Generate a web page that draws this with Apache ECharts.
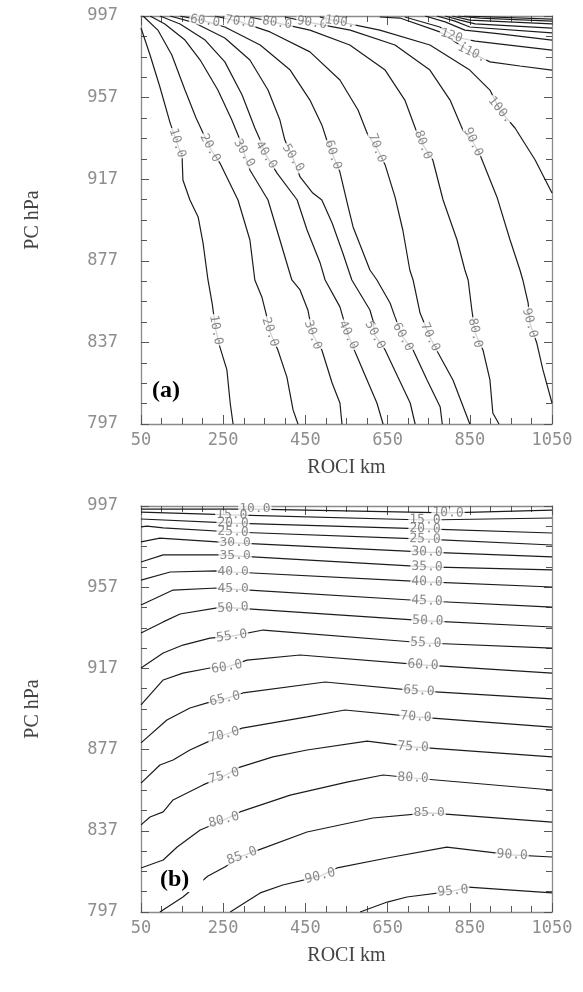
<!DOCTYPE html>
<html><head><meta charset="utf-8">
<script src="https://cdn.jsdelivr.net/npm/echarts@6/dist/echarts.min.js"></script>
<style>html,body{margin:0;padding:0;background:#fff}#c{width:583px;height:992px}</style>
</head><body><div id="c"></div>
<script>
// ---------------- data ----------------
const rociTicks = [50, 250, 450, 650, 850, 1050];   // ROCI km
const pcTicks = [797, 837, 877, 917, 957, 997];      // PC hPa

// Panel (a) contour lines, points as [ROCI km, PC hPa]
const a10 = [[50,991.1],[72,977.9],[96,962.2],[121,944.5],[138,934.7],[150,927.9],[152,916.6],[169,906.8],[189,898.5],[201,885.7],[213,867.6],[223,856.3],[232,843.1],[242,834.7],[259,823.5],[267,807.3],[274,797]];
const a20 = [[55,997],[91,990.1],[125,977.9],[157,960.7],[184,947],[201,939.6],[218,932.3],[242,924.9],[286,906.8],[315,887.2],[327,867.6],[344,859.3],[354,851.4],[364,842.1],[383,833.3],[405,820],[420,803.9],[432,797]];
const a30 = [[72,997],[108,993.1],[157,985.2],[194,975.4],[237,960.7],[271,946],[291,936.2],[301,929.8],[315,921.5],[359,906.8],[388,887.2],[417,867.6],[437,862.7],[456,852.9],[468,840.6],[490,833.3],[515,817.1],[534,807.3],[539,797]];
const a40 = [[96,997],[145,993.1],[206,985.2],[254,974.5],[296,958.3],[327,942.1],[340,936.2],[354,928.9],[381,920],[430,906.8],[454,892.1],[486,875.9],[498,867.6],[534,854.4],[541,849.5],[554,840.6],[571,832.3],[600,818.6],[624,807.3],[639,797]];
const a50 = [[121,997],[181,993.6],[254,986.2],[315,975.4],[359,960.7],[388,946],[400,936.2],[420,927.4],[437,918.1],[468,910.2],[490,906.8],[515,895.5],[541,880.8],[563,867.6],[607,852.9],[614,848],[619,840.6],[644,833.3],[675,820],[705,807.3],[717,797]];
const a60 = [[145,997],[194,995],[206,994.5],[254,991.6],[340,982.8],[413,970.5],[461,955.8],[490,943.6],[502,936.2],[517,928.9],[534,920.5],[554,903.4],[566,893.6],[607,872.5],[624,867.6],[656,856.3],[668,849.5],[687,839.6],[712,833.3],[746,818.6],[778,805.3],[783,797]];
const a70 = [[230,997],[291,994.1],[364,989.2],[461,979.4],[534,965.6],[578,950.9],[602,938.7],[624,932.3],[644,924],[668,908.3],[687,892.1],[704,872.5],[712,867.6],[729,851.4],[753,839.6],[773,831.8],[809,818.6],[850,797]];
const a80 = [[315,996.5],[381,993.6],[461,990.1],[558,982.8],[644,970.5],[692,955.8],[719,941.1],[736,933.8],[760,926.4],[785,906.8],[819,887.2],[838,872.5],[846,867.6],[855,852.9],[863,841.6],[882,833.3],[899,818.6],[906,802.4],[921,797]];
const a90 = [[400,996.5],[466,993.6],[559,990.1],[668,982.8],[753,970.5],[802,955.8],[833,941.1],[858,935.2],[875,928.9],[916,908.3],[948,887.2],[972,872.5],[979,867.6],[992,856.3],[996,846.5],[1013,836.7],[1028,823.5],[1050,807.3]];
const a100 = [[485,996.5],[534,994.1],[631,990.1],[753,982.8],[850,970.5],[899,960.7],[923,950.9],[960,942.1],[1009,926.4],[1050,910.2]];
const a110 = [[631,996.5],[680,996],[777,989.2],[826,982.8],[855,978.9],[899,974.5],[972,972.5],[1050,970.5]];
const a120 = [[692,996.5],[777,991.6],[814,986.7],[863,984.7],[1050,980.3]];
const a130 = [[741,997],[790,994.1],[838,990.1],[923,988.2],[1050,985.2]];
const a140 = [[770,997],[814,994.5],[850,991.6],[1050,988.7]];
const a150 = [[790,997],[826,995],[863,993.1],[1050,991.1]];
const a160 = [[807,997],[850,995],[1050,993.1]];
const a170 = [[821,997],[875,996],[1050,994.5]];
const a180 = [[836,997],[1050,995.5]];

// Panel (a) contour label anchors
const a10Lab = [[138,934.7],[232,843.1]];
const a20Lab = [[218,932.3],[364,842.1]];
const a30Lab = [[301,929.8],[468,840.6]];
const a40Lab = [[354,928.9],[554,840.6]];
const a50Lab = [[420,927.4],[619,840.6]];
const a60Lab = [[206,994.5],[517,928.9],[687,839.6]];
const a70Lab = [[291,994.1],[624,932.3],[753,839.6]];
const a80Lab = [[381,993.6],[736,933.8],[863,841.6]];
const a90Lab = [[466,993.6],[858,935.2],[996,846.5]];
const a100Lab = [[534,994.1],[923,950.9]];
const a110Lab = [[855,978.9]];
const a120Lab = [[814,986.7]];

// Panel (b) contour lines
const b10 = [[50,995.5],[327,995.5],[797,993.6],[1050,995]];
const b15 = [[50,994],[271,992.6],[741,990.1],[1050,991.1]];
const b20 = [[50,990.6],[274,988.6],[741,985.7],[1050,983.7]];
const b25 = [[50,986.7],[65,987.1],[104,986.2],[274,984.2],[741,980.7],[1050,977.8]];
const b30 = [[50,979.3],[96,981.2],[235,979.3],[279,978.8],[746,974.3],[1050,971.9]];
const b35 = [[50,969.4],[104,972.9],[235,972.9],[279,972.4],[746,967],[1050,965.5]];
const b40 = [[50,960.5],[121,964.5],[235,965],[274,964.5],[746,959.6],[1050,957.1]];
const b45 = [[50,948.2],[128,955.6],[235,956.6],[274,956.1],[746,950.2],[1050,947.2]];
const b50 = [[50,934.4],[104,939.9],[145,943.8],[235,946.8],[274,946.8],[748,940.4],[1050,937.4]];
const b55 = [[50,917.2],[104,924.6],[152,928.5],[218,931.9],[271,932.9],[347,935.9],[743,929.5],[1050,927]];
const b60 = [[50,899],[104,911.3],[152,914.7],[218,917.2],[259,917.7],[308,921.1],[437,923.6],[736,918.7],[1050,914.7]];
const b65 = [[50,880.3],[113,891.6],[169,897.5],[211,900],[254,902],[298,904.9],[498,910.3],[726,905.9],[1050,902]];
const b70 = [[50,860.5],[96,869.4],[128,871.9],[169,876.8],[211,880.7],[252,884.2],[296,887.6],[454,893.1],[546,896.5],[719,893.1],[1050,888.1]];
const b75 = [[50,839.9],[72,843.8],[104,846.3],[128,852.2],[201,859.6],[252,864],[291,868.4],[371,873.4],[454,876.8],[600,881.2],[712,878.3],[1050,873.4]];
const b80 = [[50,818.7],[104,822.6],[138,829],[194,837.4],[252,842.3],[291,846.3],[413,854.6],[551,861],[639,864.5],[712,863],[1050,857.1]];
const b85 = [[96,797],[152,804.4],[213,814.7],[254,819.2],[296,824.6],[335,827.5],[454,836.4],[614,843.3],[751,845.8],[1050,841.3]];
const b90 = [[267,797],[340,806.4],[395,810.3],[486,814.7],[527,818.7],[649,823.6],[794,829],[953,825.1],[1050,824.1]];
const b95 = [[583,797],[649,801.9],[697,804.4],[809,807.3],[846,809.3],[1050,806.4]];

// Panel (b) contour label anchors
const b10Lab = [[327,995.5],[797,993.6]];
const b15Lab = [[271,992.6],[741,990.1]];
const b20Lab = [[274,988.6],[741,985.7]];
const b25Lab = [[274,984.2],[741,980.7]];
const b30Lab = [[279,978.8],[746,974.3]];
const b35Lab = [[279,972.4],[746,967]];
const b40Lab = [[274,964.5],[746,959.6]];
const b45Lab = [[274,956.1],[746,950.2]];
const b50Lab = [[274,946.8],[748,940.4]];
const b55Lab = [[271,932.9],[743,929.5]];
const b60Lab = [[259,917.7],[736,918.7]];
const b65Lab = [[254,902],[726,905.9]];
const b70Lab = [[252,884.2],[719,893.1]];
const b75Lab = [[252,864],[712,878.3]];
const b80Lab = [[252,842.3],[712,863]];
const b85Lab = [[296,824.6],[751,845.8]];
const b90Lab = [[486,814.7],[953,825.1]];
const b95Lab = [[809,807.3]];

// ---------------- assembly ----------------
const panelA = [
  [10,a10,a10Lab],[20,a20,a20Lab],[30,a30,a30Lab],[40,a40,a40Lab],[50,a50,a50Lab],
  [60,a60,a60Lab],[70,a70,a70Lab],[80,a80,a80Lab],[90,a90,a90Lab],[100,a100,a100Lab],
  [110,a110,a110Lab],[120,a120,a120Lab],[130,a130,[]],[140,a140,[]],[150,a150,[]],
  [160,a160,[]],[170,a170,[]],[180,a180,[]]
];
const panelB = [
  [10,b10,b10Lab],[15,b15,b15Lab],[20,b20,b20Lab],[25,b25,b25Lab],[30,b30,b30Lab],
  [35,b35,b35Lab],[40,b40,b40Lab],[45,b45,b45Lab],[50,b50,b50Lab],[55,b55,b55Lab],
  [60,b60,b60Lab],[65,b65,b65Lab],[70,b70,b70Lab],[75,b75,b75Lab],[80,b80,b80Lab],
  [85,b85,b85Lab],[90,b90,b90Lab],[95,b95,b95Lab]
];

// label rotations (style)
const rotA = {10:[-72,-80],20:[-62,-72],30:[-60,-70],40:[-58,-65],50:[-58,-62],60:[-8,-72,-62],
  70:[-8,-70,-65],80:[-8,-70,-78],90:[-8,-65,-75],100:[-8,-50],110:[-25],120:[-18]};
const rotB = {10:[0,-2],15:[-1,-1],20:[-2,-2],25:[-2,-2],30:[0,-2],35:[0,-2],40:[0,-2],45:[0,-2],
  50:[3,-2],55:[8,-2],60:[10,-3],65:[12,-4],70:[14,-4],75:[15,-3],80:[15,-2],85:[20,0],90:[14,-3],95:[5]};

const LINE = '#1c1c1c';
const fmtA = v => v >= 100 ? v + '.' : v.toFixed(1);
const fmtB = v => v.toFixed(1);

function buildPanel(panel, rot, fmt, axisIdx, fontSize) {
  const out = [];
  const labs = [];
  panel.forEach(([lvl, pts, lp]) => {
    out.push({type:'line', xAxisIndex:axisIdx, yAxisIndex:axisIdx, data:pts, symbol:'none',
      lineStyle:{color:LINE, width:1.2}, silent:true, z:2, animation:false});
    lp.forEach((p, i) => labs.push({value:p, label:{rotate:(rot[lvl]||[])[i]||0, formatter:fmt(lvl)}}));
  });
  out.push({type:'scatter', xAxisIndex:axisIdx, yAxisIndex:axisIdx, data:labs, symbolSize:0,
    silent:true, z:5, animation:false,
    label:{show:true, position:'inside', color:'#6e6e6e', fontFamily:'DejaVu Sans Mono',
      fontSize:fontSize, lineHeight:9, backgroundColor:'#fff', padding:[0,1]}});
  return out;
}

const tickStyle = {color:'#555', width:1};
function xAx(grid, pos, showLabel) {
  return {gridIndex:grid, type:'value', position:pos,
    min:rociTicks[0], max:rociTicks[rociTicks.length-1], interval:rociTicks[1]-rociTicks[0],
    axisLine:{show:true, lineStyle:{color:'#8a8a8a', width:1.3}},
    axisTick:{show:true, inside:true, length:9, lineStyle:tickStyle},
    minorTick:{show:true, splitNumber:4, length:6, lineStyle:tickStyle},
    splitLine:{show:false}, minorSplitLine:{show:false},
    axisLabel:{show:showLabel, color:'#8e8e8e', fontFamily:'DejaVu Sans Mono', fontSize:17, margin:8,
      formatter: v => String(v)},
    name: showLabel ? 'ROCI km' : '', nameLocation:'middle', nameGap:34,
    nameTextStyle:{fontFamily:'Liberation Serif', fontSize:20, color:'#444'}};
}
function yAx(grid, pos, showLabel) {
  return {gridIndex:grid, type:'value', position:pos,
    min:pcTicks[0], max:pcTicks[pcTicks.length-1], interval:pcTicks[1]-pcTicks[0],
    axisLine:{show:true, lineStyle:{color:'#8a8a8a', width:1.3}},
    axisTick:{show:true, inside:true, length:8, lineStyle:tickStyle},
    minorTick:{show:true, splitNumber:4, length:6, lineStyle:tickStyle},
    splitLine:{show:false}, minorSplitLine:{show:false},
    axisLabel:{show:showLabel, color:'#8e8e8e', fontFamily:'DejaVu Sans Mono', fontSize:17, margin:23,
      formatter: v => String(v)},
    name: showLabel ? 'PC hPa' : '', nameLocation:'middle', nameGap:98,
    nameTextStyle:{fontFamily:'Liberation Serif', fontSize:20, color:'#444'}};
}

const chart = echarts.init(document.getElementById('c'), null, {renderer:'canvas'});
chart.setOption({
  animation:false,
  backgroundColor:'#fff',
  grid:[
    {left:141, top:16, width:411, height:408},
    {left:141, top:506, width:411, height:406}
  ],
  xAxis:[xAx(0,'bottom',true), xAx(0,'top',false), xAx(1,'bottom',true), xAx(1,'top',false)],
  yAxis:[yAx(0,'left',true), yAx(0,'right',false), yAx(1,'left',true), yAx(1,'right',false)],
  series:[].concat(buildPanel(panelA, rotA, fmtA, 0, 12.5), buildPanel(panelB, rotB, fmtB, 2, 13)),
  graphic:[
    {type:'text', left:152, top:379, z:100, style:{text:'(a)', font:'bold 24px "Liberation Serif"', fill:'#000'}},
    {type:'text', left:158, top:868, z:100, style:{text:'(b)', font:'bold 24px "Liberation Serif"', fill:'#000',
      backgroundColor:'#fff', padding:[0,14,0,2]}}
  ]
});
</script></body></html>
